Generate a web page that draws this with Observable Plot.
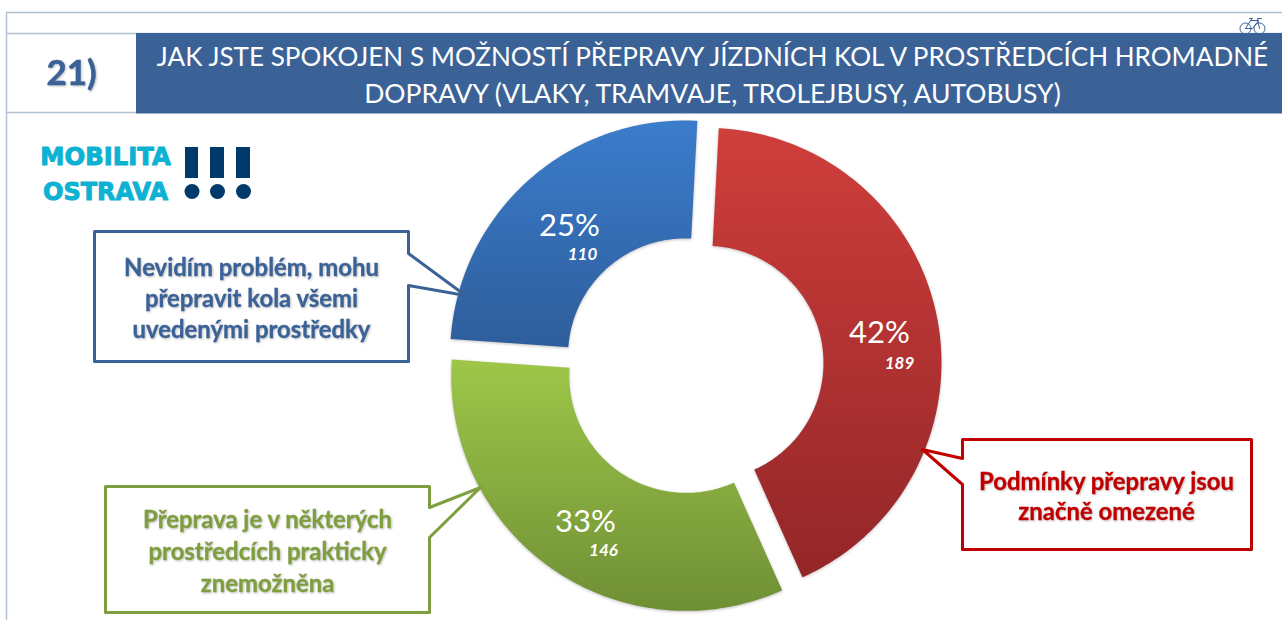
<!DOCTYPE html>
<html lang="cs">
<head>
<meta charset="utf-8">
<script src="https://cdn.jsdelivr.net/npm/d3@7"></script>
<script src="https://cdn.jsdelivr.net/npm/@observablehq/plot@0.6"></script>
<style>
html,body{margin:0;padding:0;background:#fff;overflow:hidden}
svg{display:block}
.slice{filter:drop-shadow(0 1.5px 1.5px rgba(0,0,0,.25))}
.callout-text{filter:drop-shadow(1px 1px 1px rgba(0,0,0,.25))}
</style>
</head>
<body>
<script>
// Data
const categories = ["Podmínky přepravy jsou značně omezené", "Přeprava je v některých prostředcích prakticky znemožněna", "Nevidím problém, mohu přepravit kola všemi uvedenými prostředky"];
const counts = [189, 146, 110];
const percents = ["42%", "33%", "25%"];
const titleLines = ["JAK JSTE SPOKOJEN S MOŽNOSTÍ PŘEPRAVY JÍZDNÍCH KOL V PROSTŘEDCÍCH HROMADNÉ", "DOPRAVY (VLAKY, TRAMVAJE, TROLEJBUSY, AUTOBUSY)"];

// Layout
const W = 1282, H = 620, font = "Lato, sans-serif";
const cx = 693.7, cy = 365.2, R = 235, r = 117, explode = 13;
const gradIds = ["gRed", "gGreen", "gBlue"];
const countPos = [[899, 363], [603, 550], [582, 254]];
const pctPos = [[879, 333], [585, 522], [569, 226]];
const titleSizes = [26.05, 26.5];

const arcs = d3.pie().sort(null).startAngle(3 * Math.PI / 180).endAngle(363 * Math.PI / 180)(counts);
const slicePoints = arcs.map(a => {
  const mid = (a.startAngle + a.endAngle) / 2;
  const ox = cx + explode * Math.sin(mid), oy = cy - explode * Math.cos(mid);
  return d3.range(0, 121).map(i => {
    const t = a.startAngle + (a.endAngle - a.startAngle) * i / 120;
    return {
      x1: ox + R * Math.sin(t), y1: oy - R * Math.cos(t),
      x2: ox + r * Math.sin(t), y2: oy - r * Math.cos(t)
    };
  });
});

const callouts = [
  {stroke: "#3b6296", pts: [[94,231],[408,231],[408,253],[465,295],[408,285],[408,361],[94,361],[94,231]],
   lines: ["Nevidím problém, mohu", "přepravit kola všemi", "uvedenými prostředky"], tx: 251, ty: [268, 299, 330]},
  {stroke: "#7f9f3f", pts: [[105,486],[429,486],[429,507],[480,487],[429,537],[429,612],[105,612],[105,486]],
   lines: ["Přeprava je v některých", "prostředcích prakticky", "znemožněna"], tx: 267, ty: [520, 552, 584]},
  {stroke: "#c00000", pts: [[962,439],[1251,439],[1251,549],[962,549],[962,484],[922,449],[962,458],[962,439]],
   lines: ["Podmínky přepravy jsou", "značně omezené"], tx: 1106, ty: [482, 512]}
];

const defs = () => {
  const g = d3.create("svg:g");
  g.html(`<defs>
    <linearGradient id="gRed" x1="0" y1="0" x2="0" y2="1"><stop offset="0" stop-color="#cf3e3b"/><stop offset="1" stop-color="#932628"/></linearGradient>
    <linearGradient id="gGreen" x1="0" y1="0" x2="0" y2="1"><stop offset="0" stop-color="#9ec749"/><stop offset="1" stop-color="#6f8f35"/></linearGradient>
    <linearGradient id="gBlue" x1="0" y1="0" x2="0" y2="1"><stop offset="0" stop-color="#3b7ccc"/><stop offset="1" stop-color="#2e5e9b"/></linearGradient>
  </defs>`);
  return g.node();
};

const frameColor = "#b3c1d2", blue = "#3b6296", logoCyan = "#0db2d3", logoFont = "DejaVu Sans, sans-serif";
const T = (text, x, y, o) => Plot.text([text], {x: () => x, y: () => y, text: d => d, fontFamily: font, lineAnchor: "middle", textAnchor: "middle", ...o});

const chart = Plot.plot({
  width: W, height: H, margin: 0,
  x: {domain: [0, W], range: [0, W], axis: null},
  y: {domain: [0, H], range: [0, H], axis: null},
  style: {background: "#fff", fontFamily: font},
  marks: [
    defs,
    // page frame and header
    Plot.ruleY([12], {x1: 6, x2: W, stroke: frameColor, strokeWidth: 1.5}),
    Plot.ruleX([6], {y1: 12, y2: H, stroke: frameColor, strokeWidth: 1.5}),
    Plot.ruleY([33], {x1: 6, x2: W, stroke: frameColor, strokeWidth: 1.5}),
    Plot.ruleY([112], {x1: 6, x2: 136, stroke: frameColor, strokeWidth: 1.5}),
    Plot.rect([0], {x1: 136, x2: W, y1: 33, y2: 113.5, fill: blue}),
    T("21)", 71, 73, {fontSize: 35, fontWeight: 700, fill: blue, stroke: blue, strokeWidth: 0.6, className: "callout-text"}),
    ...titleLines.map((l, i) => T(l, 712, 57 + i * 37, {fontSize: titleSizes[i], fill: "#fff"})),
    // bicycle icon
    Plot.dot([[1245, 28], [1259, 28]], {x: "0", y: "1", r: 5.5, stroke: blue, strokeWidth: 1, fill: "none"}),
    Plot.line([[1245, 28], [1250, 20], [1258, 20], [1252, 28], [1245, 28]], {x: "0", y: "1", stroke: blue, strokeWidth: 1}),
    Plot.line([[1249, 18], [1252, 18], [1250, 20]], {x: "0", y: "1", stroke: blue, strokeWidth: 1}),
    Plot.line([[1259, 28], [1257, 18], [1261, 18]], {x: "0", y: "1", stroke: blue, strokeWidth: 1}),
    // logo
    T("MOBILITA", 105, 156.5, {fontSize: 24.3, fontWeight: 700, fill: logoCyan, stroke: logoCyan, strokeWidth: 1, fontFamily: logoFont}),
    T("OSTRAVA", 105, 192, {fontSize: 24, fontWeight: 700, fill: logoCyan, stroke: logoCyan, strokeWidth: 1, fontFamily: logoFont}),
    Plot.rect([[185, 198], [210, 224], [236, 250]], {x1: "0", x2: "1", y1: 147, y2: 178, fill: "#003a6b"}),
    Plot.dot([191.5, 217, 243], {x: d => d, y: () => 191, r: 7.5, fill: "#003a6b"}),
    // donut
    ...slicePoints.map((pts, i) => Plot.area(pts, {x1: "x1", y1: "y1", x2: "x2", y2: "y2", fill: `url(#${gradIds[i]})`, className: "slice"})),
    ...percents.map((p, i) => T(p, pctPos[i][0], pctPos[i][1], {fontSize: 31, fill: "#fff"})),
    ...counts.map((c, i) => T(String(c), countPos[i][0], countPos[i][1], {fontSize: 17, fontWeight: 700, fontStyle: "italic", fill: "#fff"})),
    // callouts
    ...callouts.map(c => Plot.line(c.pts, {x: "0", y: "1", stroke: c.stroke, strokeWidth: 3, fill: "#fff", strokeLinejoin: "round"})),
    ...callouts.flatMap(c => c.lines.map((l, i) => T(l, c.tx, c.ty[i], {fontSize: 23.9, fontWeight: 700, fill: c.stroke, stroke: c.stroke, strokeWidth: 0.3, className: "callout-text"})))
  ]
});
document.body.appendChild(chart);
</script>
</body>
</html>
